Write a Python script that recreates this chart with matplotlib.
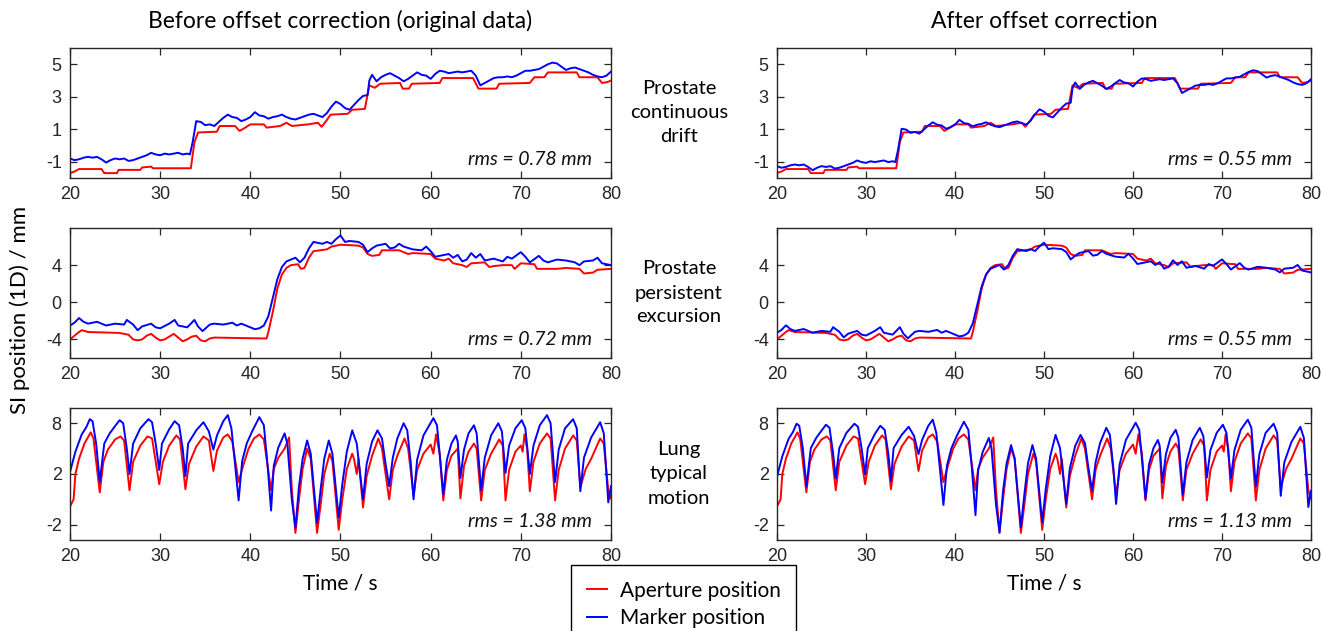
import matplotlib
matplotlib.use('Agg')
import matplotlib.pyplot as plt

# ---------------- data (time s, SI position mm) ----------------
time_ticks = [20, 30, 40, 50, 60, 70, 80]

# Prostate continuous drift
drift_marker = [
    (20, -0.8), (20.5, -0.9), (21, -0.85), (21.5, -0.75), (22, -0.7), (22.5, -0.75), (23, -0.7),
    (23.5, -0.85), (24, -1.05), (24.5, -0.9), (25, -0.8), (25.5, -0.85), (26, -0.8), (26.5, -0.95),
    (27, -0.9), (27.5, -0.8), (28, -0.7), (28.5, -0.6), (29, -0.45), (29.5, -0.55), (30, -0.6),
    (30.5, -0.5), (31, -0.55), (31.5, -0.5), (32, -0.45), (32.5, -0.55), (33, -0.5), (33.3, -0.55),
    (33.6, 0.2), (34, 1.5), (34.5, 1.45), (35, 1.25), (35.5, 1.3), (36, 1.2), (36.5, 1.45),
    (37, 1.7), (37.5, 1.9), (38, 1.75), (38.5, 1.7), (39, 1.5), (39.5, 1.6), (40, 1.75),
    (40.5, 2.05), (41, 1.85), (41.5, 1.8), (42, 1.65), (42.5, 1.75), (43, 1.8), (43.5, 1.9),
    (44, 1.75), (44.5, 1.65), (45, 1.6), (45.5, 1.7), (46, 1.8), (46.5, 1.9), (47, 1.95),
    (47.5, 1.85), (48, 1.75), (48.5, 2.0), (49, 2.4), (49.5, 2.7), (50, 2.55), (50.5, 2.3),
    (51, 2.2), (51.5, 2.5), (52, 2.8), (52.5, 3.05), (53, 3.1), (53.2, 4.0), (53.5, 4.35),
    (54, 3.95), (54.5, 4.2), (55, 4.35), (55.5, 4.45), (56, 4.3), (56.5, 4.15), (57, 3.95),
    (57.5, 4.1), (58, 4.3), (58.5, 4.5), (59, 4.35), (59.5, 4.3), (60, 4.1), (60.5, 4.4),
    (61, 4.6), (61.5, 4.55), (62, 4.45), (62.5, 4.5), (63, 4.55), (63.5, 4.5), (64, 4.55),
    (64.5, 4.6), (65, 4.3), (65.5, 3.7), (66, 3.85), (66.5, 4.0), (67, 4.15), (67.5, 4.2),
    (68, 4.2), (68.5, 4.25), (69, 4.2), (69.5, 4.3), (70, 4.45), (70.5, 4.6), (71, 4.6),
    (71.5, 4.65), (72, 4.7), (72.5, 4.85), (73, 5.0), (73.5, 5.1), (74, 5.05), (74.5, 4.85),
    (75, 4.65), (75.5, 4.75), (76, 4.8), (76.5, 4.7), (77, 4.6), (77.5, 4.5), (78, 4.35),
    (78.5, 4.25), (79, 4.2), (79.5, 4.3), (80, 4.55),
]
drift_aperture = [
    (20, -1.7), (20.5, -1.6), (21, -1.45), (23.5, -1.45), (23.8, -1.7), (25.2, -1.7), (25.4, -1.5),
    (27.8, -1.5), (28, -1.35), (29, -1.3), (29.2, -1.4), (33.4, -1.4), (33.8, 0.2), (34.2, 0.8),
    (36.3, 0.85), (36.6, 1.2), (38.3, 1.2), (38.8, 0.9), (39.3, 1.05), (40, 1.3), (41.5, 1.3),
    (41.8, 1.1), (43.3, 1.2), (44, 1.4), (44.6, 1.2), (46.4, 1.3), (47.5, 1.4), (47.9, 1.15),
    (48.4, 1.5), (48.9, 1.9), (50.8, 1.95), (51.3, 2.2), (52.7, 2.25), (53.2, 3.7), (53.8, 3.55),
    (54.4, 3.8), (56.6, 3.85), (56.9, 3.5), (57.6, 3.5), (57.9, 3.8), (61, 3.85), (61.3, 4.15),
    (64.7, 4.15), (65.3, 3.5), (67.3, 3.5), (67.6, 3.8), (71, 3.85), (71.5, 4.2), (72.6, 4.2),
    (73, 4.5), (76.2, 4.5), (76.5, 4.2), (78.5, 4.2), (79, 3.85), (79.6, 3.9), (80, 4.0),
]
drift_offset = 0.47   # marker offset removed in the corrected panel (mm)

# Prostate persistent excursion
excursion_marker = [
    (20, -2.5), (20.5, -2.2), (21, -1.7), (21.5, -2.1), (22, -2.3), (23, -2.1), (24, -2.5),
    (25, -2.3), (26, -2.4), (26.3, -1.9), (27, -2.4), (27.5, -3.0), (28, -2.6), (29, -2.3),
    (29.5, -2.7), (30, -2.8), (31, -2.3), (31.6, -1.9), (32, -2.5), (33, -2.7), (33.8, -1.9),
    (34.2, -2.6), (34.7, -3.1), (35.5, -2.4), (36, -2.3), (37, -2.4), (38, -2.2), (38.5, -2.5),
    (39, -2.3), (40, -2.7), (40.5, -2.9), (41, -2.8), (41.5, -2.5), (42, -1.5), (42.5, 0.5),
    (43, 2.5), (43.5, 3.8), (44, 4.4), (45, 4.8), (45.5, 4.3), (46, 4.8), (46.5, 5.8), (47, 6.5),
    (48, 6.3), (48.5, 6.5), (49, 6.3), (49.5, 6.8), (50, 7.2), (50.5, 6.5), (51, 6.6), (52, 6.5),
    (52.5, 6.2), (53, 5.4), (53.5, 5.8), (54, 6.1), (55, 6.3), (55.5, 5.8), (56, 5.9), (56.5, 6.3),
    (57, 6.0), (58, 5.7), (59, 5.6), (59.5, 6.0), (60, 5.5), (60.5, 4.9), (61, 5.0), (62, 5.2),
    (62.5, 4.8), (63, 5.1), (63.5, 4.4), (64, 4.6), (64.5, 5.3), (65, 4.8), (65.5, 5.2), (66, 4.5),
    (67, 4.7), (68, 4.4), (68.5, 4.9), (69, 4.7), (70, 5.4), (70.5, 4.9), (71, 4.3), (72, 5.0),
    (72.5, 4.5), (73, 4.3), (74, 4.6), (75, 4.5), (76, 4.3), (76.5, 4.0), (77, 4.4), (78, 4.5),
    (78.5, 4.8), (79, 4.2), (80, 4.0),
]
excursion_aperture = [
    (20, -4.0), (20.5, -3.6), (21, -3.2), (21.3, -3.0), (22, -3.2), (25.5, -3.3), (26, -3.4),
    (26.5, -3.5), (27, -4.0), (27.5, -4.1), (28, -4.0), (28.5, -3.6), (29, -3.4), (29.5, -3.8),
    (30, -4.1), (30.5, -4.0), (31, -3.7), (31.5, -3.4), (32, -3.8), (32.5, -4.2), (33, -4.0),
    (33.5, -3.7), (34, -3.6), (34.5, -4.1), (35, -4.2), (35.5, -3.9), (36, -3.8), (41.8, -3.9),
    (42, -3.2), (42.5, -1.0), (43, 1.5), (43.5, 3.0), (44, 3.7), (44.5, 4.0), (45.3, 4.1),
    (45.6, 3.6), (46, 3.7), (46.5, 4.8), (47, 5.5), (48.5, 5.7), (49, 6.0), (50, 6.2), (52, 6.1),
    (52.5, 5.9), (53, 5.2), (53.5, 5.0), (54.3, 5.1), (54.6, 5.6), (56.5, 5.6), (57, 5.4),
    (57.5, 5.2), (58, 5.3), (60, 5.2), (60.5, 4.7), (61.5, 4.5), (62, 4.7), (62.5, 4.2),
    (63.5, 4.0), (64, 3.8), (64.5, 4.2), (66, 4.3), (66.5, 3.8), (67, 3.9), (68, 4.0), (69, 4.0),
    (69.3, 3.6), (70, 4.2), (71.5, 4.1), (71.8, 3.6), (74, 3.6), (75, 3.7), (76.5, 3.6),
    (77, 3.1), (78, 3.2), (78.5, 3.5), (80, 3.6),
]
excursion_offset = 0.78

# Lung typical motion
lung_marker = [
    (20.0, 3.2), (20.6, 5.2), (21.3, 6.9), (21.8, 7.6), (22.2, 8.4), (22.5, 8.2), (22.9, 6.0),
    (23.3, 2.2), (23.8, 6.0), (24.4, 7.0), (24.9, 7.6), (25.5, 8.3), (25.9, 8.0), (26.3, 5.5),
    (26.6, 3.0), (27.0, 6.0), (27.8, 7.5), (28.7, 8.4), (29.1, 8.1), (29.5, 6.0), (29.9, 3.4),
    (30.2, 6.0), (31.0, 7.4), (31.6, 8.2), (32.1, 7.8), (32.5, 5.5), (32.8, 2.8), (33.1, 6.0),
    (34.0, 7.3), (34.8, 8.1), (35.4, 7.2), (35.9, 5.4), (36.3, 6.8), (37.0, 8.2), (37.5, 8.8),
    (37.9, 7.5), (38.3, 4.0), (38.7, 0.4), (39.1, 4.3), (39.6, 6.0), (40.2, 7.2), (41.0, 8.6),
    (41.5, 7.8), (41.9, 4.0), (42.3, -0.6), (42.6, 3.8), (43.1, 5.6), (43.8, 7.0), (44.1, 6.0),
    (44.6, 0.5), (45.0, -2.3), (45.4, 1.8), (45.8, 4.5), (46.3, 6.3), (46.7, 5.0), (47.4, -1.8),
    (47.8, 1.5), (48.2, 4.5), (48.7, 6.3), (49.1, 5.0), (49.8, -1.3), (50.2, 2.0), (50.7, 5.2),
    (51.3, 7.3), (51.8, 6.0), (52.5, 0.5), (52.9, 4.0), (53.5, 6.2), (54.1, 7.3), (54.6, 6.5),
    (55.0, 4.0), (55.4, 1.8), (55.8, 4.6), (56.3, 6.5), (57.0, 8.0), (57.4, 7.3), (57.8, 4.0),
    (58.1, 0.5), (58.5, 4.4), (59.2, 6.8), (60.3, 8.5), (60.7, 7.8), (61.1, 4.0), (61.4, 1.0),
    (61.8, 4.4), (62.3, 6.0), (62.8, 6.8), (63.0, 6.2), (63.3, 2.6), (63.7, 5.4), (64.2, 7.0),
    (64.8, 7.8), (65.1, 7.0), (65.6, 1.4), (66.0, 4.6), (66.7, 6.8), (67.5, 8.0), (67.9, 7.2),
    (68.3, 3.1), (68.7, 5.8), (69.4, 7.5), (70.1, 8.3), (70.5, 7.5), (71.0, 3.0), (71.4, 5.8),
    (72.1, 7.8), (72.9, 8.8), (73.3, 8.0), (73.8, 2.2), (74.2, 5.4), (74.9, 7.5), (75.8, 8.4),
    (76.2, 7.5), (76.6, 1.3), (77.0, 4.6), (77.8, 6.6), (78.8, 8.1), (79.2, 7.0), (79.7, 0.2),
    (80.0, 1.8),
]
lung_aperture = [
    (20.0, -0.2), (20.4, 0.5), (20.6, 3.0), (21.0, 4.5), (21.6, 6.0), (22.3, 7.1), (22.6, 6.5),
    (23.3, 1.2), (23.7, 4.2), (24.2, 5.4), (25.0, 6.4), (25.6, 6.7), (26.0, 6.3), (26.6, 1.4),
    (27.0, 4.2), (27.8, 5.8), (28.6, 6.7), (29.1, 6.5), (29.9, 2.0), (30.3, 4.2), (31.0, 5.8),
    (31.8, 6.8), (32.2, 6.4), (32.8, 1.5), (33.2, 4.0), (34.0, 5.7), (34.8, 6.7), (35.4, 6.3),
    (35.9, 3.3), (36.3, 5.3), (37.0, 6.6), (37.5, 6.9), (38.0, 6.2), (38.7, 2.2), (39.2, 3.8),
    (39.8, 5.5), (40.4, 6.5), (41.0, 6.9), (41.5, 6.4), (42.3, 1.4), (42.6, 3.5), (43.1, 4.6),
    (43.8, 5.5), (44.3, 6.6), (44.6, 1.5), (45.0, -2.8), (45.4, 0.5), (45.8, 3.5), (46.3, 5.5),
    (46.7, 4.5), (47.4, -2.8), (47.8, 0.0), (48.2, 3.0), (48.8, 5.0), (49.1, 4.3), (49.8, -2.5),
    (50.2, 0.5), (50.7, 3.5), (51.3, 5.0), (51.5, 4.5), (51.8, 3.0), (52.0, 4.5), (52.5, -0.3),
    (52.9, 2.8), (53.5, 4.8), (54.2, 6.5), (54.6, 5.5), (55.4, 0.5), (55.8, 3.4), (56.3, 4.8),
    (57.1, 6.5), (57.5, 5.5), (58.1, 0.9), (58.5, 3.4), (59.2, 5.0), (60.0, 5.9), (60.3, 5.0),
    (60.6, 6.9), (61.0, 5.0), (61.4, 0.4), (61.8, 3.4), (62.3, 4.8), (63.0, 5.5), (63.3, 0.6),
    (63.7, 3.8), (64.2, 5.2), (64.8, 6.0), (65.1, 5.5), (65.6, 0.4), (66.0, 3.4), (66.7, 5.0),
    (67.6, 6.4), (68.0, 5.8), (68.3, 0.4), (68.7, 3.4), (69.4, 5.2), (70.0, 5.8), (70.2, 5.2),
    (70.4, 6.9), (70.7, 5.5), (71.0, 1.3), (71.4, 4.2), (72.1, 6.0), (72.9, 7.0), (73.3, 6.5),
    (73.8, 0.4), (74.2, 3.4), (74.9, 5.5), (75.8, 6.8), (76.2, 6.3), (76.6, 1.7), (77.2, 3.5),
    (77.8, 4.5), (78.8, 6.5), (79.2, 6.0), (79.7, 1.4), (80.0, 0.6),
]
lung_offset = 0.45

row_names = ["Prostate\ncontinuous\ndrift", "Prostate\npersistent\nexcursion", "Lung\ntypical\nmotion"]
rms_before = ["rms = 0.78 mm", "rms = 0.72 mm", "rms = 1.38 mm"]
rms_after = ["rms = 0.55 mm", "rms = 0.55 mm", "rms = 1.13 mm"]
ylims = [(-2, 6), (-6, 8), (-3.5, 9.5)]
ytick_pos = [[-1, 1, 3, 5], [-4, 0, 4], [-2, 3, 8]]
ytick_lab = [["-1", "1", "3", "5"], ["-4", "0", "4"], ["-2", "2", "8"]]
col_titles = ["Before offset correction (original data)", "After offset correction"]
legend_labels = ["Aperture position", "Marker position"]

series = [(drift_aperture, drift_marker, drift_offset),
          (excursion_aperture, excursion_marker, excursion_offset),
          (lung_aperture, lung_marker, lung_offset)]

# ---------------- figure ----------------
W, H = 1323, 631
fig = plt.figure(figsize=(W / 100, H / 100), dpi=100)
TXT = ['Lato', 'DejaVu Sans']
NUM = ['Liberation Sans', 'DejaVu Sans']
RED, BLUE = '#ff0000', '#0000ff'
FRAME = '#262626'


def add_ax(x0, y0, x1, y1):
    return fig.add_axes([x0 / W, 1 - y1 / H, (x1 - x0) / W, (y1 - y0) / H])


cols = [(70, 611), (777, 1311)]
rows = [(48, 178), (228, 358), (408, 540)]

handles = None
for r, (yy0, yy1) in enumerate(rows):
    ap, mk, off = series[r]
    t_ap = [p[0] for p in ap]
    v_ap = [p[1] for p in ap]
    t_mk = [p[0] for p in mk]
    v_mk = [p[1] for p in mk]
    v_mk_corr = [v - off for v in v_mk]
    for c, (xx0, xx1) in enumerate(cols):
        ax = add_ax(xx0, yy0, xx1, yy1)
        l1, = ax.plot(t_ap, v_ap, color=RED, lw=1.4)
        l2, = ax.plot(t_mk, v_mk if c == 0 else v_mk_corr, color=BLUE, lw=1.4)
        handles = [l1, l2]
        ax.set_xlim(20, 80)
        ax.set_ylim(*ylims[r])
        ax.set_xticks(time_ticks)
        ax.set_xticklabels([str(t) for t in time_ticks])
        ax.set_yticks(ytick_pos[r])
        ax.set_yticklabels(ytick_lab[r])
        ax.tick_params(direction='in', length=5, width=0.9, color=FRAME,
                       top=True, right=True, labelsize=13, labelcolor='#262626', pad=6)
        for lab in ax.get_xticklabels() + ax.get_yticklabels():
            lab.set_family(NUM)
        for s in ax.spines.values():
            s.set_color(FRAME)
            s.set_linewidth(1.0)
        ax.text(0.965, 0.14, (rms_before if c == 0 else rms_after)[r], transform=ax.transAxes,
                ha='right', va='center', fontsize=14, style='italic', family=TXT, color='#111111')
        if r == 2:
            ax.set_xlabel("Time / s", fontsize=15, family=TXT, labelpad=6)
    fig.text(679 / W, 1 - (yy0 + yy1) / 2 / H, row_names[r], ha='center', va='center',
             fontsize=14.5, family=TXT, linespacing=1.5)

for c, (xx0, xx1) in enumerate(cols):
    fig.text((xx0 + xx1) / 2 / W, 1 - 21 / H, col_titles[c], ha='center', va='center',
             fontsize=16.5, family=TXT)

fig.text(20 / W, 1 - 310 / H, "SI position (1D) / mm", rotation=90, ha='center', va='center',
         fontsize=16, family=TXT)

leg = fig.legend(handles, legend_labels, loc='upper left', bbox_to_anchor=(571 / W, 1 - 565 / H),
                 frameon=True, fancybox=False, edgecolor='black', framealpha=1,
                 prop={'family': TXT, 'size': 15}, handlelength=1.0, handletextpad=0.6,
                 borderpad=0.75, labelspacing=0.35, borderaxespad=0)
leg.get_frame().set_linewidth(1.0)

fig.savefig('out.png', dpi=100)
